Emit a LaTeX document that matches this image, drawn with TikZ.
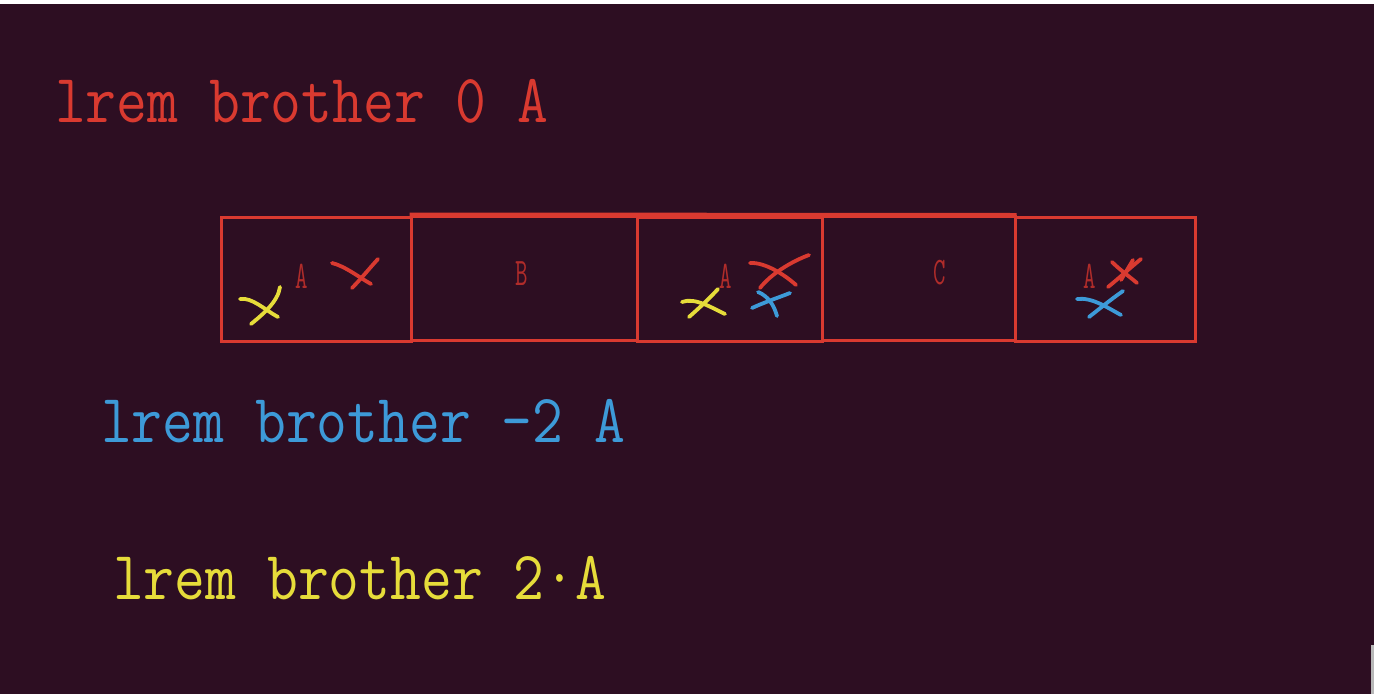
\documentclass[tikz,border=0pt]{standalone}
\definecolor{bgc}{HTML}{2D0E22}
\definecolor{redc}{HTML}{D93A30}
\definecolor{lblc}{HTML}{B02C2A}
\definecolor{bluec}{HTML}{3D9AD8}
\definecolor{yelc}{HTML}{E6DC3A}
\definecolor{grayc}{HTML}{B8B8B8}
\begin{document}
\begin{tikzpicture}[x=1pt,y=-1pt,
  cell/.style={draw=redc, line width=3pt, rectangle, inner sep=0pt, minimum height=124pt},
  bigtext/.style={font=\ttfamily\fontsize{69}{76}\selectfont, anchor=base west, inner sep=0pt, xscale=0.867, transform shape},
  lbl/.style={text=lblc, font=\ttfamily\fontsize{39}{40}\selectfont, inner sep=0pt, xscale=0.62, transform shape},
  xstroke/.style={line width=3.8pt, line cap=round}
]
\useasboundingbox (0,0) rectangle (1374,694);
\fill[bgc] (0,0) rectangle (1374,694);
\fill[white] (0,0) rectangle (1374,4);
\fill[grayc] (1371,645) rectangle (1374,694);

% title texts
\node[bigtext, text=redc] (t0) at (55,122) {lrem brother 0 A};
\node[bigtext, text=bluec] (t1) at (101,442) {lrem brother -2 A};
\node[bigtext, text=yelc] (t2) at (113,599) {lrem brother 2·A};

% cells
\node[cell, minimum width=190pt] (c1) at (316,279) {};
\node[cell, minimum width=226pt] (c2) at (524,278) {};
\node[cell, minimum width=185pt] (c3) at (729.5,279) {};
\node[cell, minimum width=193pt] (c4) at (918.5,278.5) {};
\node[cell, minimum width=180pt] (c5) at (1105,279) {};
\draw[redc, line width=4pt] (c2.north west) -- (c4.north east);

% labels
\node[lbl] (l1) at (302,276) {A};
\node[lbl] (l2) at (522,274) {B};
\node[lbl] (l3) at (726,276) {A};
\node[lbl] (l4) at (940,273) {C};
\node[lbl] (l5) at (1090,276) {A};

% cell 1 marks
\draw[xstroke, yelc] (240,299) .. controls (252,297) and (265,310) .. (278,317);
\draw[xstroke, yelc] (280,287) .. controls (278,302) and (262,315) .. (251,324);
\draw[xstroke, redc] (332,263) .. controls (345,266) and (360,278) .. (371,284);
\draw[xstroke, redc] (378,259) .. controls (368,270) and (360,280) .. (352,288);

% cell 3 marks
\draw[xstroke, yelc] (682,302) .. controls (695,297) and (712,308) .. (725,314);
\draw[xstroke, yelc] (718,289) .. controls (708,300) and (698,309) .. (689,317);
\draw[xstroke, redc] (750,263) .. controls (765,262) and (785,275) .. (796,285);
\draw[xstroke, redc] (809,255) .. controls (790,262) and (770,275) .. (760,288);
\draw[xstroke, bluec] (752,308) .. controls (765,302) and (780,297) .. (790,293);
\draw[xstroke, bluec] (758,292) .. controls (768,296) and (774,305) .. (777,316);

% cell 5 marks
\draw[xstroke, redc] (1112,262) .. controls (1120,270) and (1130,277) .. (1137,283);
\draw[xstroke, redc] (1141,259) .. controls (1130,268) and (1118,279) .. (1108,287);
\draw[xstroke, redc] (1133,260) -- (1121,280);
\draw[xstroke, bluec] (1077,299) .. controls (1092,297) and (1108,308) .. (1121,315);
\draw[xstroke, bluec] (1123,291) .. controls (1110,300) and (1098,310) .. (1089,317);
\end{tikzpicture}
\end{document}
